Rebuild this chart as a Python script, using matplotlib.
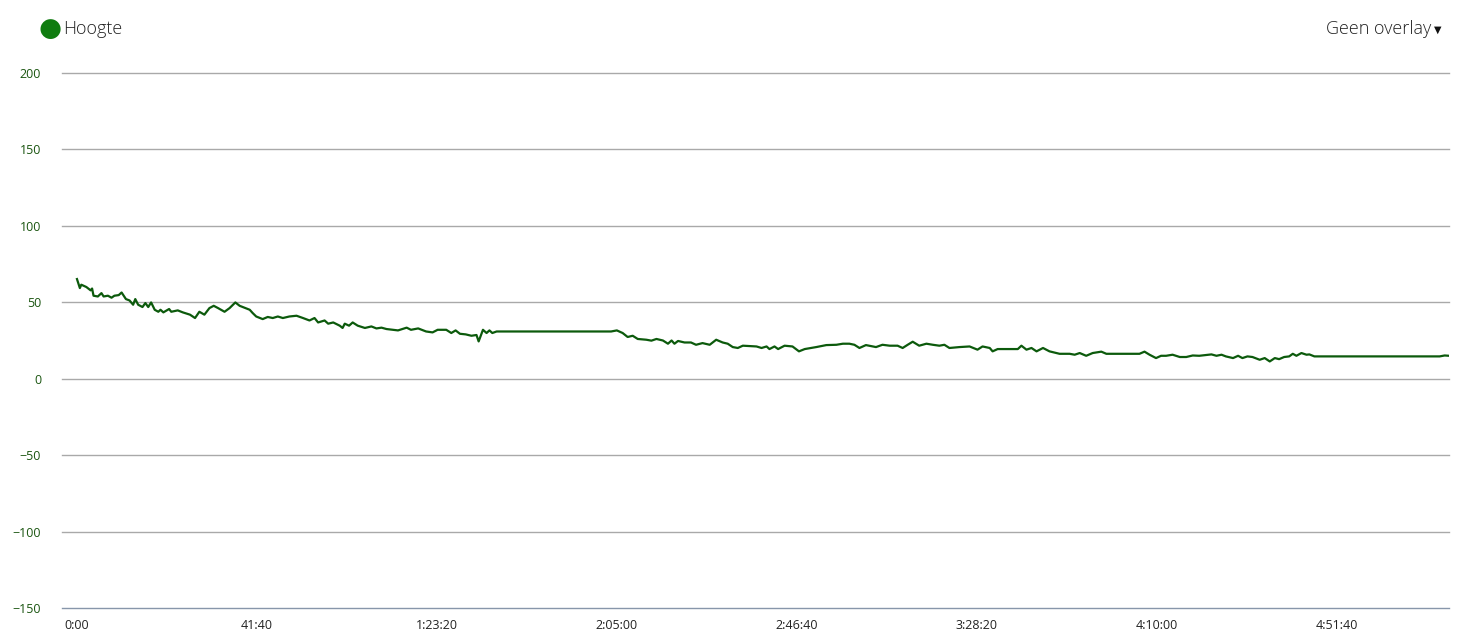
import numpy as np
import matplotlib
matplotlib.use("Agg")
from matplotlib import pyplot as plt
from matplotlib.ticker import FuncFormatter, FixedLocator

# elapsed time (s) and elevation (m)
time_s = [0, 40, 60, 130, 190, 210, 230, 290, 340, 370, 430, 480, 520, 580, 620,
          680, 730, 780, 810, 850, 910, 950, 990, 1030, 1080, 1130, 1160, 1200,
          1280, 1310, 1400, 1470, 1570, 1640, 1700, 1770, 1840, 1900, 1960, 2050,
          2120, 2200, 2260, 2400, 2440, 2490, 2580, 2650, 2720, 2790, 2860, 2950,
          3050, 3140, 3230, 3300, 3350, 3440, 3490, 3560, 3650, 3690, 3720, 3780,
          3830, 3900, 4000, 4090, 4160, 4230, 4300, 4460, 4580, 4640, 4740, 4850,
          4940, 5010, 5130, 5200, 5260, 5320, 5400, 5480, 5550, 5580, 5640, 5690,
          5730, 5770, 5830, 7350, 7420, 7500, 7580, 7650, 7720, 7790, 7910, 7980,
          8050, 8140, 8210, 8260, 8300, 8350, 8440, 8530, 8600, 8690, 8790, 8880,
          8970, 9040, 9110, 9180, 9250, 9440, 9510, 9580, 9620, 9690, 9740, 9830,
          9940, 10030, 10110, 10270, 10410, 10550, 10640, 10730, 10800, 10870,
          10960, 11100, 11190, 11290, 11400, 11470, 11540, 11610, 11700, 11800,
          11890, 11980, 12050, 12120, 12260, 12400, 12510, 12580, 12680, 12720,
          12790, 13070, 13120, 13190, 13260, 13330, 13420, 13510, 13650, 13790,
          13860, 13930, 14020, 14110, 14230, 14300, 14760, 14830, 14900, 14990,
          15060, 15130, 15220, 15320, 15410, 15500, 15590, 15690, 15760, 15830,
          15900, 15960, 16060, 16130, 16190, 16260, 16330, 16430, 16500, 16570,
          16640, 16700, 16770, 16840, 16890, 16940, 17010, 17080, 17120, 17190,
          18930, 19000, 19060]
hoogte = [65.2, 59.3, 61.5, 60.0, 57.8, 59.0, 54.3, 53.8, 56.0, 53.8, 54.3, 53.0,
          54.3, 54.7, 56.4, 52.1, 51.2, 48.4, 52.1, 48.4, 46.9, 49.5, 46.9, 49.9,
          45.1, 43.8, 45.1, 43.4, 45.6, 43.8, 44.7, 43.4, 41.9, 39.7, 43.8, 41.9,
          46.2, 47.7, 46.2, 43.8, 46.2, 49.9, 47.7, 45.1, 43.0, 40.7, 39.0, 40.4,
          39.7, 40.7, 39.7, 40.7, 41.2, 39.7, 38.1, 39.7, 36.8, 38.1, 36.0, 36.8,
          34.7, 33.2, 36.0, 34.7, 36.8, 34.7, 33.2, 34.2, 32.9, 33.4, 32.5, 31.6,
          33.4, 32.0, 32.9, 30.9, 30.3, 32.0, 32.0, 29.9, 31.6, 29.4, 29.0, 28.1,
          28.6, 24.4, 32.0, 29.9, 31.6, 29.9, 30.9, 30.9, 30.9, 31.6, 29.9, 27.3,
          28.1, 26.0, 25.5, 24.9, 26.0, 25.0, 22.9, 25.0, 22.9, 24.7, 23.7, 23.7,
          22.2, 23.3, 22.2, 25.5, 23.7, 22.9, 20.7, 20.1, 21.6, 21.1, 20.1, 21.1,
          19.4, 21.1, 19.4, 21.6, 21.1, 17.9, 19.4, 20.7, 22.0, 22.2, 22.9, 22.9,
          22.2, 20.1, 22.0, 20.7, 22.2, 21.6, 21.6, 20.1, 22.2, 24.2, 21.6, 22.9,
          22.2, 21.6, 22.2, 20.1, 20.7, 21.1, 19.0, 21.1, 20.1, 17.9, 19.4, 19.4,
          21.6, 19.0, 20.1, 17.9, 20.1, 17.9, 16.3, 16.3, 15.7, 16.8, 15.0, 16.8,
          17.7, 16.3, 16.3, 17.7, 15.7, 13.5, 15.0, 15.0, 15.7, 14.2, 14.2, 15.2,
          15.0, 15.5, 15.9, 15.0, 15.7, 14.6, 13.5, 15.0, 13.5, 14.6, 14.2, 12.4,
          13.5, 11.3, 13.5, 12.8, 14.2, 14.6, 16.3, 15.0, 16.8, 15.7, 15.9, 14.6,
          14.6, 15.2, 15.0]

y_ticks = [-150, -100, -50, 0, 50, 100, 150, 200]
x_ticks = [0, 2500, 5000, 7500, 10000, 12500, 15000, 17500]


def fmt_time(v, pos=None):
    v = int(round(v))
    h, rest = divmod(v, 3600)
    m, s = divmod(rest, 60)
    if h > 0:
        return f"{h}:{m:02d}:{s:02d}"
    return f"{m}:{s:02d}"


plt.rcParams['font.family'] = ['Open Sans', 'DejaVu Sans']

fig = plt.figure(figsize=(14.67, 6.43), dpi=100)
ax = fig.add_axes([62 / 1467, 1 - 608 / 643, 1387 / 1467, 535 / 643])

ax.plot(time_s, hoogte, color='#0c5a0c', lw=1.6, solid_joinstyle='round')

ax.set_ylim(-150, 200)
ax.set_xlim(-208, 19060)
ax.yaxis.set_major_locator(FixedLocator(y_ticks))
ax.xaxis.set_major_locator(FixedLocator(x_ticks))
ax.xaxis.set_major_formatter(FuncFormatter(fmt_time))

for y in y_ticks:
    c = '#8796aa' if y == -150 else '#a9a9a9'
    ax.axhline(y, color=c, lw=1, zorder=0, clip_on=False)

for sp in ax.spines.values():
    sp.set_visible(False)
ax.tick_params(axis='both', length=0)
ax.tick_params(axis='y', pad=15, labelsize=9, labelcolor='#1a5510')
ax.tick_params(axis='x', pad=8, labelsize=9, labelcolor='#222222')

# legend / header
fig.text(50 / 1467, 1 - 29 / 643, '\u25CF', color='#107c10', fontsize=19,
         ha='center', va='center', family=['DejaVu Sans'])
fig.text(63 / 1467, 1 - 29 / 643, 'Hoogte', fontsize=13, color='#222222',
         ha='left', va='center', fontweight='light')
fig.text(1431 / 1467, 1 - 29 / 643, 'Geen overlay', fontsize=13,
         color='#222222', ha='right', va='center', fontweight='light')
fig.text(1438 / 1467, 1 - 30 / 643, '\u25BC', fontsize=7, color='#111111',
         ha='center', va='center', family=['DejaVu Sans'])

fig.savefig('out.png', dpi=100, facecolor='white')
